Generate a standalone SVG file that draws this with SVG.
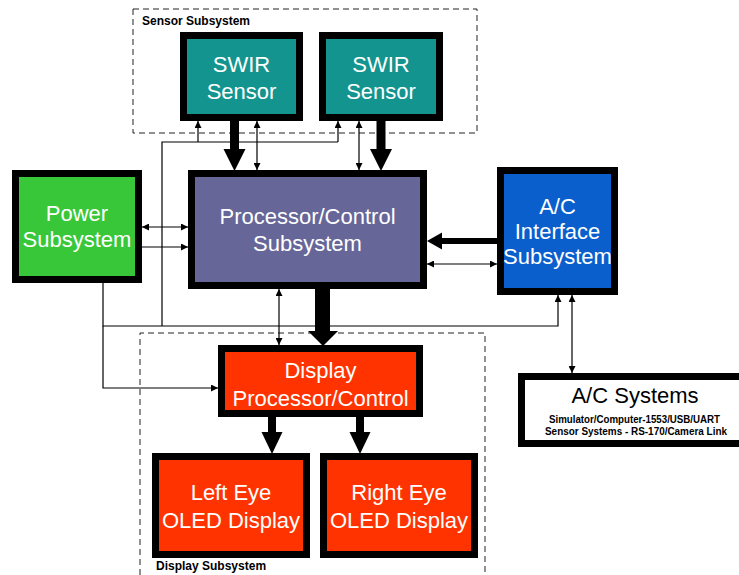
<svg xmlns="http://www.w3.org/2000/svg" width="739" height="575" viewBox="0 0 739 575">
<defs>
<style>
.box{stroke:#000;stroke-width:7}
.lbl{font-family:"Liberation Sans",Arial,sans-serif;font-size:22px;fill:#fff;text-anchor:middle}
.grp{font-family:"Liberation Sans",Arial,sans-serif;font-size:12px;font-weight:bold;fill:#000}
.dash{fill:none;stroke:#222;stroke-width:1;stroke-dasharray:6 4}
.thin{fill:none;stroke:#000;stroke-width:1.2}
.thick{fill:#000;stroke:none}
</style>
<marker id="ah" viewBox="0 0 10 10" refX="10" refY="5" markerWidth="8" markerHeight="7" markerUnits="userSpaceOnUse" orient="auto-start-reverse">
<path d="M0,0 L10,5 L0,10 z" fill="#000"/>
</marker>
</defs>
<rect width="739" height="575" fill="#fff"/>

<g id="sensor-subsystem">
<rect class="dash" x="133" y="9" width="344" height="124"/>
<text class="grp" x="142" y="25">Sensor Subsystem</text>
</g>
<g id="display-subsystem">
<path class="dash" d="M140,575 V333 H485 V575"/>
<text class="grp" x="156" y="570">Display Subsystem</text>
</g>

<g id="connectors">
<!-- sensor 1 -->
<rect class="thick" x="230" y="120" width="9" height="30"/>
<polygon class="thick" points="223.5,149 245.5,149 234.5,171"/>
<line class="thin" x1="257" y1="121" x2="257" y2="170" marker-start="url(#ah)" marker-end="url(#ah)"/>
<!-- sensor 2 -->
<line class="thin" x1="359" y1="121" x2="359" y2="170" marker-start="url(#ah)" marker-end="url(#ah)"/>
<rect class="thick" x="376.5" y="120" width="9" height="30"/>
<polygon class="thick" points="370,149 392,149 381,171"/>
<!-- power feed to sensors -->
<polyline class="thin" points="162,326 162,142 338,142"/>
<line class="thin" x1="198" y1="142" x2="198" y2="121" marker-end="url(#ah)"/>
<line class="thin" x1="338" y1="142" x2="338" y2="121" marker-end="url(#ah)"/>
<!-- power bus -->
<polyline class="thin" points="103,283 103,326 558,326 558,295" marker-end="url(#ah)"/>
<polyline class="thin" points="103,326 103,388 218,388" marker-end="url(#ah)"/>
<!-- power to processor -->
<line class="thin" x1="142" y1="227" x2="188" y2="227" marker-start="url(#ah)" marker-end="url(#ah)"/>
<line class="thin" x1="142" y1="247" x2="188" y2="247" marker-end="url(#ah)"/>
<!-- A/C interface to processor -->
<rect class="thick" x="441" y="238" width="57" height="6"/>
<polygon class="thick" points="442,232.5 442,249.5 427,241"/>
<line class="thin" x1="427" y1="264" x2="497" y2="264" marker-start="url(#ah)" marker-end="url(#ah)"/>
<!-- A/C interface to A/C systems -->
<line class="thin" x1="572" y1="295" x2="572" y2="373" marker-start="url(#ah)" marker-end="url(#ah)"/>
<!-- processor to display -->
<line class="thin" x1="279" y1="289" x2="279" y2="345" marker-start="url(#ah)" marker-end="url(#ah)"/>
<rect class="thick" x="315" y="288" width="15" height="44"/>
<polygon class="thick" points="308,331 338,331 323,346"/>
<!-- display to eyes -->
<rect class="thick" x="268" y="416" width="8" height="17"/>
<polygon class="thick" points="261.5,432 282.5,432 272,454"/>
<rect class="thick" x="356" y="416" width="8" height="17"/>
<polygon class="thick" points="349.5,432 370.5,432 360,454"/>
</g>

<g id="swir-sensor-1">
<rect class="box" x="183.5" y="35.5" width="116" height="82" fill="#13948F"/>
<text class="lbl" x="241.5" y="72">SWIR</text>
<text class="lbl" x="241.5" y="99">Sensor</text>
</g>
<g id="swir-sensor-2">
<rect class="box" x="322.5" y="35.5" width="117" height="82" fill="#13948F"/>
<text class="lbl" x="381" y="72">SWIR</text>
<text class="lbl" x="381" y="99">Sensor</text>
</g>
<g id="power-subsystem">
<rect class="box" x="15.5" y="173.5" width="123" height="106" fill="#38C738"/>
<text class="lbl" x="77" y="221">Power</text>
<text class="lbl" x="77" y="247">Subsystem</text>
</g>
<g id="processor-control">
<rect class="box" x="191.5" y="173.5" width="232" height="112" fill="#666699"/>
<text class="lbl" x="307.5" y="224">Processor/Control</text>
<text class="lbl" x="307.5" y="251">Subsystem</text>
</g>
<g id="ac-interface">
<rect class="box" x="500.5" y="170.5" width="114" height="121" fill="#0A5FCC"/>
<text class="lbl" x="557.5" y="214">A/C</text>
<text class="lbl" x="557.5" y="239">Interface</text>
<text class="lbl" x="557.5" y="264">Subsystem</text>
</g>
<g id="ac-systems">
<rect class="box" x="521.5" y="376.5" width="230" height="67" fill="#fff"/>
<text class="lbl" x="635" y="403" style="fill:#000">A/C Systems</text>
<text x="634.5" y="423" font-family="'Liberation Sans',Arial,sans-serif" font-size="10.5" font-weight="bold" text-anchor="middle" textLength="171" lengthAdjust="spacingAndGlyphs">Simulator/Computer-1553/USB/UART</text>
<text x="636" y="434.5" font-family="'Liberation Sans',Arial,sans-serif" font-size="10.5" font-weight="bold" text-anchor="middle" textLength="182" lengthAdjust="spacingAndGlyphs">Sensor Systems - RS-170/Camera Link</text>
</g>
<g id="display-processor">
<rect class="box" x="221.5" y="348.5" width="198" height="65" fill="#FF3300"/>
<text class="lbl" x="320.5" y="378">Display</text>
<text class="lbl" x="320.5" y="406">Processor/Control</text>
</g>
<g id="left-eye-oled">
<rect class="box" x="155.5" y="456.5" width="151" height="98" fill="#FF3300"/>
<text class="lbl" x="231" y="500">Left Eye</text>
<text class="lbl" x="231" y="528">OLED Display</text>
</g>
<g id="right-eye-oled">
<rect class="box" x="323.5" y="456.5" width="151" height="98" fill="#FF3300"/>
<text class="lbl" x="399" y="500">Right Eye</text>
<text class="lbl" x="399" y="528">OLED Display</text>
</g>
</svg>
